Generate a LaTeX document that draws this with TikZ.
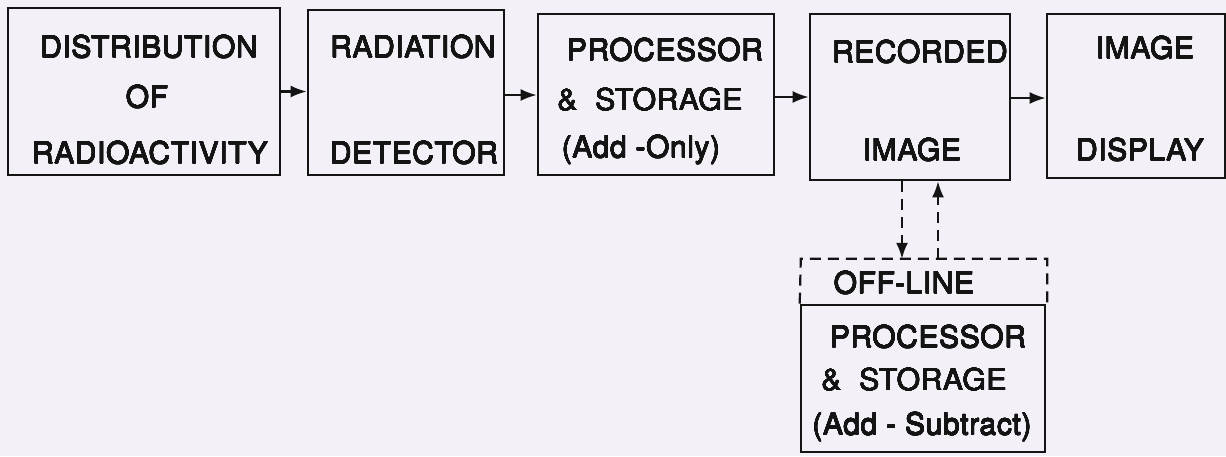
\documentclass[tikz,border=0pt]{standalone}
\usepackage{fontspec}
\setmainfont{TeX Gyre Heros}
\newfontface\lett{TeX Gyre Heros}[LetterSpace=2]
\usepackage[copies]{contour}
\contourlength{0.25pt}
\contournumber{16}
\usetikzlibrary{arrows.meta}
\definecolor{bg}{HTML}{F4F0F8}
\definecolor{ink}{HTML}{141414}
\newcommand\heavytxt[1]{\contour{ink}{#1}}
\begin{document}
\begin{tikzpicture}[x=1pt,y=-1pt,
  box/.style={draw=ink,line width=2.6pt,rectangle,inner sep=0pt},
  lbl/.style={text=ink,font=\lett\fontsize{30}{36}\selectfont,inner sep=0pt,anchor=center},
  arr/.style={draw=ink,line width=2.2pt,-{Latex[length=16pt,width=12pt]}},
  darr/.style={draw=ink,line width=2.2pt,dash pattern=on 11pt off 7pt,-{Latex[length=16pt,width=12pt]}}]
\fill[bg] (0,0) rectangle (1226,456);
\useasboundingbox (0,0) rectangle (1226,456);
% boxes
\node[box,minimum width=272pt,minimum height=167pt] (b1) at (144,91.5) {};
\node[box,minimum width=196pt,minimum height=165pt] (b2) at (406,92.5) {};
\node[box,minimum width=236pt,minimum height=161pt] (b3) at (656,94.5) {};
\node[box,minimum width=200pt,minimum height=166pt] (b4) at (910,97) {};
\node[box,minimum width=178pt,minimum height=164pt] (b5) at (1136,96) {};
% off-line group
\node[inner sep=0pt,minimum width=246pt,minimum height=46pt] (off) at (924,282) {};
\node[box,minimum width=244pt,minimum height=147pt] (offin) at (923,378.5) {};
\draw[draw=ink,line width=2.2pt,dash pattern=on 11pt off 7pt]
  (offin.north west) -- (off.north west) -- (off.north east) -- (off.north east |- offin.north);
% labels
\node[lbl] (t1a) at (149,47) {\heavytxt{DISTRIBUTION}};
\node[lbl] (t1b) at (147,97) {\heavytxt{OF}};
\node[lbl] (t1c) at (150,153) {\heavytxt{RADIOACTIVITY}};
\node[lbl] (t2a) at (413,47) {\heavytxt{RADIATION}};
\node[lbl] (t2b) at (414,153) {\heavytxt{DETECTOR}};
\node[lbl] (t3a) at (665,50) {\heavytxt{PROCESSOR}};
\node[lbl] (t3b) at (650,100) {\heavytxt{\&\ \ STORAGE}};
\node[lbl] (t3c) at (641,150) {\heavytxt{(Add -Only)}};
\node[lbl] (t4a) at (920,52) {\heavytxt{RECORDED}};
\node[lbl] (t4b) at (912,150) {\heavytxt{IMAGE}};
\node[lbl] (t5a) at (1145,48) {\heavytxt{IMAGE}};
\node[lbl] (t5b) at (1140,150) {\heavytxt{DISPLAY}};
\node[lbl] (t6a) at (904,283) {\heavytxt{OFF-LINE}};
\node[lbl] (t6b) at (928,337) {\heavytxt{PROCESSOR}};
\node[lbl] (t6c) at (914,380) {\heavytxt{\&\ \ STORAGE}};
\node[lbl] (t6d) at (922,427) {\heavytxt{(Add - Subtract)}};
% connectors
\draw[arr] (b1.east) -- (b1.east -| b2.west);
\draw[arr] ([yshift=-2.5pt]b2.east) -- ([yshift=-2.5pt]b2.east -| b3.west);
\draw[arr] ([yshift=-2.5pt]b3.east) -- ([yshift=-2.5pt]b3.east -| b4.west);
\draw[arr] ([yshift=-1pt]b4.east) -- ([yshift=-1pt]b4.east -| b5.west);
\draw[darr] ([xshift=-8pt]b4.south) -- ([xshift=-8pt]b4.south |- off.north);
\draw[darr] ([xshift=28pt]b4.south |- off.north) -- ([xshift=28pt]b4.south);
\end{tikzpicture}
\end{document}
